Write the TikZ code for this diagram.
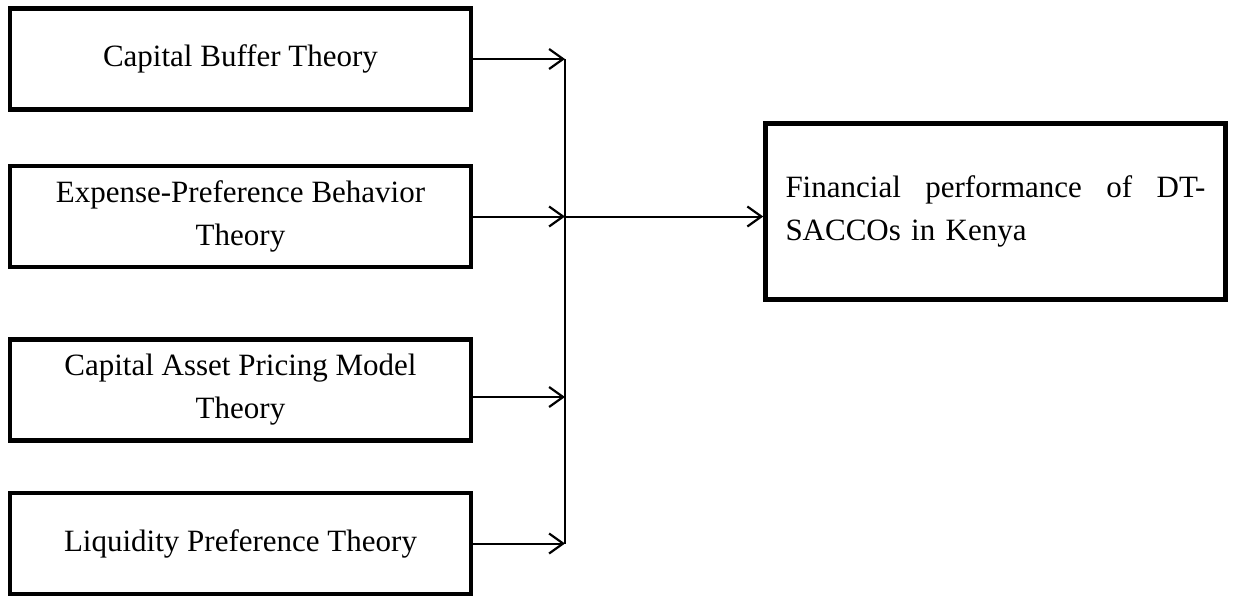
\documentclass[tikz,border=0pt]{standalone}
\usepackage{fontspec}
\setmainfont{Liberation Serif}
\usetikzlibrary{arrows.meta, positioning}

\begin{document}
\begin{tikzpicture}[x=1pt, y=-1pt,
        theory/.style={draw, line width=4.5pt, minimum width=461pt, minimum height=101pt, align=center, inner sep=0pt, font=\fontsize{31}{43}\selectfont},
        outcome/.style={draw, line width=4.5pt, minimum height=176pt, text width=420pt, align=left, inner xsep=20pt, font=\fontsize{31}{43}\selectfont},
        link/.style={line width=2pt, -{Straight Barb[length=14pt, width=20pt, line width=2.2pt]}}]

        \useasboundingbox (0,0) rectangle (1235,598);

        \node[theory] (buffer) at (240.5,59) {Capital Buffer Theory};
        \node[theory] (expense) at (240.5,216.5) {Expense-Preference Behavior\\Theory};
        \node[theory] (capm) at (240.5,390) {Capital Asset Pricing Model\\Theory};
        \node[theory] (liquidity) at (240.5,543.5) {Liquidity Preference Theory};

        \node[outcome] (perf) at (995.5,211.5) {Financial\hfill performance\hfill of\hfill DT-\\SACCOs in Kenya};

        \coordinate (bus) at (565,0);

        \draw[line width=1.6pt] (buffer.east -| bus) -- (liquidity.east -| bus);

        \draw[link] (buffer.east) -- (buffer.east -| bus);
        \draw[link] (expense.east) -- (expense.east -| bus);
        \draw[link] ([yshift=-7pt]capm.east) -- ([yshift=-7pt]capm.east -| bus);
        \draw[link] (liquidity.east) -- (liquidity.east -| bus);

        \draw[link] (expense.east -| bus) -- (perf.west |- expense.east);
\end{tikzpicture}
\end{document}
